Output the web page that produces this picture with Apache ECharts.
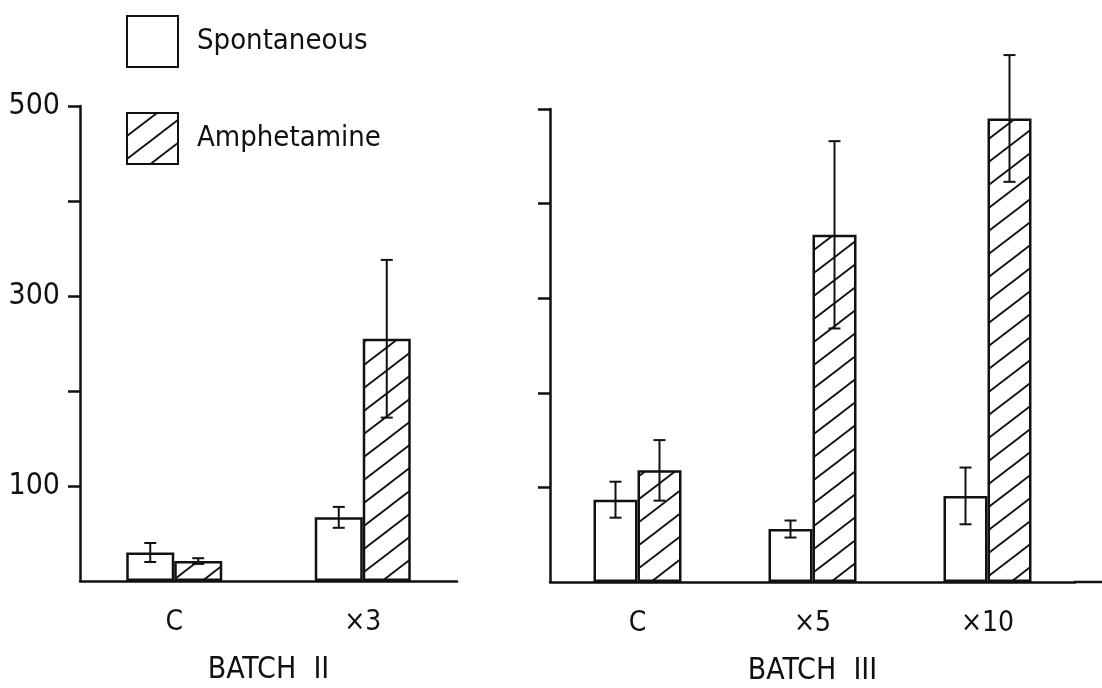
<!DOCTYPE html>
<html>
<head>
<meta charset="utf-8">
<script src="https://cdn.jsdelivr.net/npm/echarts@6/dist/echarts.min.js"></script>
<style>
  html, body { margin: 0; padding: 0; background: #fff; }
  #main { width: 1102px; height: 688px; }
</style>
</head>
<body>
<div id="main"></div>
<script>
// values
var batch2Cats = ['C', '×3'];
var batch2Spont = [30, 67];
var batch2SpontErr = [10, 11];
var batch2Amph = [21, 255];
var batch2AmphErr = [3, 83];

var batch3Cats = ['C', '×5', '×10'];
var batch3Spont = [87, 56, 91];
var batch3SpontErr = [19, 9, 30];
var batch3Amph = [118, 367, 490];
var batch3AmphErr = [32, 99, 67];

var yTicks = [100, 200, 300, 400, 500];
var yLabels = [100, 300, 500];

var font = "'Liberation Sans Narrow', 'DejaVu Sans Condensed', 'Liberation Sans', sans-serif";
var ink = '#111';

// hatch tile  "/"
var hatch = document.createElement('canvas');
hatch.width = 30; hatch.height = 23;
var ctx = hatch.getContext('2d');
ctx.strokeStyle = ink;
ctx.lineWidth = 1.8;
for (var n = -1; n <= 1; n++) {
    ctx.beginPath();
    ctx.moveTo(-5, 23 + 23 * n + 5 * 23 / 30);
    ctx.lineTo(35, 23 * n - 5 * 23 / 30);
    ctx.stroke();
}

function errData(means, errs) {
    return means.map(function (m, i) { return [i, m - errs[i], m + errs[i]]; });
}

function errRenderer(sign, barW) {
    return function (params, api) {
        var c = api.value(0);
        var x = api.coord([c, 0])[0] + sign * barW / 2;
        var lo = api.coord([c, api.value(1)])[1];
        var hi = api.coord([c, api.value(2)])[1];
        var cap = 6;
        var st = { stroke: ink, lineWidth: 2 };
        return {
            type: 'group',
            children: [
                { type: 'line', shape: { x1: x, y1: lo, x2: x, y2: hi }, style: st },
                { type: 'line', shape: { x1: x - cap, y1: hi, x2: x + cap, y2: hi }, style: st },
                { type: 'line', shape: { x1: x - cap, y1: lo, x2: x + cap, y2: lo }, style: st }
            ]
        };
    };
}

var plainStyle = { color: '#fff', borderColor: ink, borderWidth: 2.5 };
var hatchStyle = { color: { image: hatch, repeat: 'repeat' }, borderColor: ink, borderWidth: 2.5 };

var bw2 = 48, bw3 = 44;

function yAxisOf(idx, withLabels) {
    return {
        type: 'value', gridIndex: idx, min: 0, max: 500, interval: 100,
        splitLine: { show: false },
        axisLine: { show: true, lineStyle: { color: ink, width: 2.5 } },
        axisTick: { show: true, inside: false, length: 12, customValues: yTicks, lineStyle: { width: 2.5 } },
        axisLabel: withLabels
            ? { fontFamily: font, fontSize: 30, color: ink, margin: 20, customValues: yLabels }
            : { show: false }
    };
}

function xAxisOf(idx, cats, title) {
    return {
        type: 'category', gridIndex: idx, data: cats,
        axisLine: { lineStyle: { color: ink, width: 2.5 } },
        axisTick: { show: false },
        axisLabel: { fontFamily: font, fontSize: 28, color: ink, margin: 28 },
        name: title, nameLocation: 'middle', nameGap: 74,
        nameTextStyle: { fontFamily: font, fontSize: 30, color: ink }
    };
}

var myChart = echarts.init(document.getElementById('main'));
var option = {
    animation: false,
    legend: {
        orient: 'vertical',
        left: 121,
        top: 10,
        itemWidth: 51,
        itemHeight: 51,
        itemGap: 44,
        icon: 'rect',
        data: ['Spontaneous', 'Amphetamine'],
        textStyle: { fontFamily: font, fontSize: 29, color: ink, padding: [0, 0, 0, 14] }
    },
    grid: [
        { left: 80, right: 645, top: 106, bottom: 107, outerBoundsMode: 'none', containLabel: false },
        { left: 550, right: 27, top: 109, bottom: 106, outerBoundsMode: 'none', containLabel: false }
    ],
    xAxis: [
        xAxisOf(0, batch2Cats, 'BATCH  II'),
        xAxisOf(1, batch3Cats, 'BATCH  III')
    ],
    yAxis: [yAxisOf(0, true), yAxisOf(1, false)],
    graphic: [
        // the right panel's baseline runs on to the page edge
        { type: 'line', shape: { x1: 1074, y1: 582, x2: 1102, y2: 582 }, style: { stroke: ink, lineWidth: 2.5 } }
    ],
    series: [
        { name: 'Spontaneous', type: 'bar', xAxisIndex: 0, yAxisIndex: 0, data: batch2Spont, barWidth: bw2, barGap: '0%', itemStyle: plainStyle },
        { name: 'Amphetamine', type: 'bar', xAxisIndex: 0, yAxisIndex: 0, data: batch2Amph, barWidth: bw2, barGap: '0%', itemStyle: hatchStyle },
        { name: 'Spontaneous', type: 'bar', xAxisIndex: 1, yAxisIndex: 1, data: batch3Spont, barWidth: bw3, barGap: '0%', itemStyle: plainStyle },
        { name: 'Amphetamine', type: 'bar', xAxisIndex: 1, yAxisIndex: 1, data: batch3Amph, barWidth: bw3, barGap: '0%', itemStyle: hatchStyle },
        { name: 'e1', type: 'custom', xAxisIndex: 0, yAxisIndex: 0, z: 5, renderItem: errRenderer(-1, bw2), data: errData(batch2Spont, batch2SpontErr) },
        { name: 'e2', type: 'custom', xAxisIndex: 0, yAxisIndex: 0, z: 5, renderItem: errRenderer(1, bw2), data: errData(batch2Amph, batch2AmphErr) },
        { name: 'e3', type: 'custom', xAxisIndex: 1, yAxisIndex: 1, z: 5, renderItem: errRenderer(-1, bw3), data: errData(batch3Spont, batch3SpontErr) },
        { name: 'e4', type: 'custom', xAxisIndex: 1, yAxisIndex: 1, z: 5, renderItem: errRenderer(1, bw3), data: errData(batch3Amph, batch3AmphErr) }
    ]
};
myChart.setOption(option);
</script>
</body>
</html>
